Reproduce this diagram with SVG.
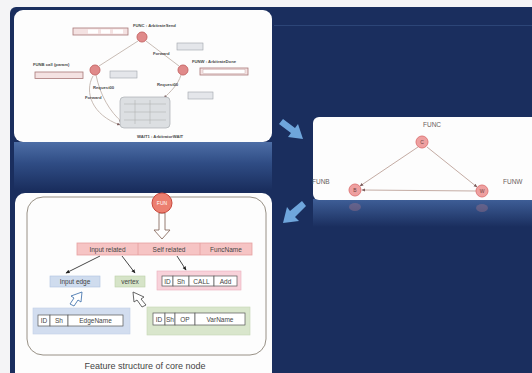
<svg xmlns="http://www.w3.org/2000/svg" width="532" height="373" viewBox="0 0 532 373">
  <defs>
    <style>
      .t { font-family: "Liberation Sans", Arial, sans-serif; }
      .tiny { font-family: "Liberation Sans", Arial, sans-serif; font-size: 4.2px; fill: #4a4a4a; font-weight: bold; }
      .lbl { font-family: "Liberation Sans", Arial, sans-serif; font-size: 6.5px; fill: #6a6060; }
      .cell { font-family: "Liberation Sans", Arial, sans-serif; font-size: 6.5px; fill: #444; text-anchor: middle; }
      .edge { stroke: #c4aca4; stroke-width: 1; fill: none; }
      .gedge { stroke: #c2b4ad; stroke-width: 0.9; fill: none; }
      .node { fill: #eea0a0; stroke: #e07a7a; stroke-width: 1; }
      .cgnode { fill: #e08a8a; stroke: #c86a6a; stroke-width: 1; }
      .pbox { fill: #f4e2e2; stroke: #a87878; stroke-width: 0.8; }
      .gbox { fill: #e4e6ea; stroke: #9ea3aa; stroke-width: 0.6; }
      .cellbox { fill: #fff; stroke: #555; stroke-width: 0.7; }
      .dark { stroke: #333; stroke-width: 0.9; fill: none; }
    </style>
    <linearGradient id="reflect" x1="0" y1="0" x2="0" y2="1">
      <stop offset="0" stop-color="#4d6ea6"/>
      <stop offset="0.45" stop-color="#2f4c84"/>
      <stop offset="1" stop-color="#1a2e5e"/>
    </linearGradient>
    <linearGradient id="reflect2" x1="0" y1="0" x2="0" y2="1">
      <stop offset="0" stop-color="#3f5f98"/>
      <stop offset="1" stop-color="#1a2e5e"/>
    </linearGradient>
    <marker id="ah" viewBox="0 0 10 10" refX="8" refY="5" markerWidth="5" markerHeight="5" orient="auto">
      <path d="M0,1 L9,5 L0,9 Z" fill="#222"/>
    </marker>
    <marker id="ahg" viewBox="0 0 10 10" refX="8" refY="5" markerWidth="4" markerHeight="4" orient="auto">
      <path d="M0,1 L9,5 L0,9 Z" fill="#7a5a5a"/>
    </marker>
  </defs>

  <!-- page margin and slide background -->
  <rect x="0" y="0" width="532" height="373" fill="#f4f4f6"/>
  <rect x="10" y="7" width="530" height="380" rx="6" fill="#1a2e5e"/>
  <line x1="274" y1="25.5" x2="532" y2="25.5" stroke="#2c4577" stroke-width="1.2"/>

  <!-- reflections under the panels -->
  <rect x="14" y="142" width="258" height="48" fill="url(#reflect)"/>
  <rect x="313" y="199" width="219" height="28" fill="url(#reflect2)"/>
  <ellipse cx="355" cy="207" rx="6" ry="4" fill="#b87a8a" opacity="0.35"/>
  <ellipse cx="482" cy="208" rx="6" ry="4" fill="#b87a8a" opacity="0.35"/>

  <!-- top-left panel: call graph with parameters -->
  <g id="panel-callgraph">
    <rect x="14" y="10" width="258" height="132" rx="9" fill="#fdfdfd"/>
    <g id="cg-connectors">
      <line class="gedge" x1="138" y1="41" x2="99" y2="66"/>
      <line class="gedge" x1="146" y1="41" x2="179" y2="66"/>
      <path class="gedge" d="M96,75 C100,95 110,112 122,122" marker-end="url(#ahg)"/>
      <path class="gedge" d="M93,76 C84,92 92,115 120,125" marker-end="url(#ahg)"/>
      <path class="gedge" d="M181,75 C178,85 170,92 164,98" marker-end="url(#ahg)"/>
    </g>
    <g id="cg-func">
      <circle class="cgnode" cx="142" cy="37" r="5"/>
      <text class="tiny" x="133" y="27">FUNC : ArbitrateSend</text>
      <rect class="pbox" x="73" y="28" width="55" height="7"/>
      <rect x="88" y="29.5" width="10" height="4" fill="#fff"/>
      <rect x="101" y="29.5" width="9" height="4" fill="#fff"/>
      <rect x="113" y="29.5" width="10" height="4" fill="#fff"/>
      <rect class="gbox" x="177" y="43" width="26" height="7"/>
    </g>
    <g id="cg-funb">
      <circle class="cgnode" cx="95" cy="70" r="5"/>
      <text class="tiny" x="33" y="66">FUNB call (param)</text>
      <rect class="pbox" x="35" y="72" width="48" height="6.5"/>
      <rect class="gbox" x="110" y="71" width="27" height="7"/>
    </g>
    <g id="cg-funw">
      <circle class="cgnode" cx="183" cy="70" r="5"/>
      <text class="tiny" x="192" y="63">FUNW : ArbitrateDone</text>
      <rect class="pbox" x="200" y="68" width="48" height="7"/>
      <rect x="203" y="69.5" width="42" height="4" fill="#fff" stroke="#c0a0a0" stroke-width="0.4"/>
      <rect class="gbox" x="188" y="92" width="25" height="7" fill="#e4e8f4"/>
    </g>
    <text class="tiny" x="153" y="55">Forward</text>
    <text class="tiny" x="93" y="89">Request00</text>
    <text class="tiny" x="85" y="99">Forward</text>
    <text class="tiny" x="157" y="86">Request00</text>
    <g id="cg-wait">
      <rect x="120" y="97" width="50" height="31" rx="4" fill="#dcdfe2" stroke="#a9adb2" stroke-width="0.7"/>
      <line x1="124" y1="104" x2="166" y2="104" stroke="#aaa" stroke-width="0.5"/>
      <line x1="124" y1="112" x2="166" y2="112" stroke="#aaa" stroke-width="0.5"/>
      <line x1="124" y1="120" x2="166" y2="120" stroke="#aaa" stroke-width="0.5"/>
      <line x1="135" y1="100" x2="135" y2="124" stroke="#aaa" stroke-width="0.5"/>
      <line x1="150" y1="100" x2="150" y2="124" stroke="#aaa" stroke-width="0.5"/>
      <text class="tiny" x="137" y="138">WAIT1 : ArbitratorWAIT</text>
    </g>
  </g>

  <!-- right panel: simplified call graph -->
  <g id="panel-simple">
    <rect x="313" y="117" width="230" height="83" rx="6" fill="#fdfdfd"/>
    <g id="simple-connectors">
      <line class="edge" x1="418" y1="147" x2="360" y2="186" marker-end="url(#ahg)"/>
      <line class="edge" x1="427" y1="147" x2="477" y2="187" marker-end="url(#ahg)"/>
      <line class="edge" x1="476" y1="191" x2="362" y2="190" marker-end="url(#ahg)"/>
    </g>
    <g id="node-C">
      <circle class="node" cx="422" cy="142" r="6"/>
      <text class="t" x="422" y="144" font-size="5" text-anchor="middle" fill="#704040">C</text>
      <text class="lbl" x="432" y="127" text-anchor="middle">FUNC</text>
    </g>
    <g id="node-B">
      <circle class="node" cx="355" cy="190" r="6"/>
      <text class="t" x="355" y="192" font-size="5" text-anchor="middle" fill="#704040">B</text>
      <text class="lbl" x="312" y="184">FUNB</text>
    </g>
    <g id="node-W">
      <circle class="node" cx="482" cy="191" r="6"/>
      <text class="t" x="482" y="193" font-size="5" text-anchor="middle" fill="#704040">W</text>
      <text class="lbl" x="503" y="184">FUNW</text>
    </g>
  </g>

  <!-- blue flow arrows between panels -->
  <g id="flow-arrows" fill="#6fa6dc">
    <path d="M279,124 L283,119 L295,128 L298,124 L303,139 L288,137 L291,133 Z"/>
    <path d="M306,206 L302,201 L290,211 L287,207 L283,223 L299,221 L295,217 Z"/>
  </g>

  <!-- bottom-left panel: feature structure of core node -->
  <g id="panel-feature">
    <rect x="15" y="193" width="257" height="190" rx="10" fill="#fdfdfd"/>
    <rect x="27" y="197" width="239" height="158" rx="16" fill="none" stroke="#8c8478" stroke-width="0.9"/>

    <g id="feat-connectors">
      <path d="M159,213 L165,213 L165,230 L170,230 L162,239 L154,230 L159,230 Z" fill="#fff" stroke="#8a6e62" stroke-width="0.9"/>
      <line class="dark" x1="100" y1="256" x2="66" y2="273" marker-end="url(#ah)"/>
      <line class="dark" x1="122" y1="256" x2="135" y2="273" marker-end="url(#ah)"/>
      <line class="dark" x1="177" y1="256" x2="186" y2="270" marker-end="url(#ah)"/>
      <path d="M70,304 L74,298 L71,296 L82,292 L81,302 L78,300 L74,306 Z" fill="#fff" stroke="#4a78b0" stroke-width="0.9"/>
      <path d="M146,305 L141,299 L144,297 L133,292 L134,302 L137,300 L142,307 Z" fill="#fff" stroke="#555" stroke-width="0.9"/>
    </g>

    <g id="feat-fun">
      <circle cx="162" cy="203" r="10" fill="#ec7f70" stroke="#c8483c" stroke-width="1"/>
      <text class="t" x="162" y="205" font-size="5" text-anchor="middle" fill="#fff">FUN</text>
    </g>

    <g id="feat-categories">
      <rect x="77" y="243" width="175" height="12" fill="#f6c4c4" stroke="#e6a0a0" stroke-width="0.8"/>
      <line x1="138" y1="243" x2="138" y2="255" stroke="#e6a0a0" stroke-width="0.8"/>
      <line x1="200" y1="243" x2="200" y2="255" stroke="#e6a0a0" stroke-width="0.8"/>
      <text class="cell" x="107.5" y="251.5">Input related</text>
      <text class="cell" x="169" y="251.5">Self related</text>
      <text class="cell" x="226" y="251.5">FuncName</text>
    </g>

    <g id="feat-input-edge">
      <rect x="50" y="276" width="50" height="11" fill="#cfdcee" stroke="#b0c4e0" stroke-width="0.6"/>
      <text class="cell" x="75" y="284">Input edge</text>
    </g>
    <g id="feat-vertex">
      <rect x="115" y="276" width="30" height="11" fill="#d6e4c8" stroke="#bcd0a8" stroke-width="0.6"/>
      <text class="cell" x="130" y="284">vertex</text>
    </g>

    <g id="feat-self">
      <rect x="157" y="271" width="84" height="19" fill="#f8d2da" stroke="#eab0bc" stroke-width="0.6"/>
      <rect class="cellbox" x="162" y="276" width="11" height="10"/>
      <rect class="cellbox" x="173" y="276" width="16" height="10"/>
      <rect class="cellbox" x="189" y="276" width="25" height="10"/>
      <rect class="cellbox" x="214" y="276" width="23" height="10"/>
      <text class="cell" x="167.5" y="283.5">ID</text>
      <text class="cell" x="181" y="283.5">Sh</text>
      <text class="cell" x="201.5" y="283.5">CALL</text>
      <text class="cell" x="225.5" y="283.5">Add</text>
    </g>

    <g id="feat-edge-detail">
      <rect x="33" y="308" width="97" height="26" fill="#d2ddef" stroke="#c2cfe6" stroke-width="0.6"/>
      <rect class="cellbox" x="38" y="315" width="12" height="11"/>
      <rect class="cellbox" x="50" y="315" width="18" height="11"/>
      <rect class="cellbox" x="68" y="315" width="55" height="11"/>
      <text class="cell" x="44" y="323">ID</text>
      <text class="cell" x="59" y="323">Sh</text>
      <text class="cell" x="95.5" y="323">EdgeName</text>
    </g>

    <g id="feat-vertex-detail">
      <rect x="147" y="307" width="103" height="28" fill="#d9e6cc" stroke="#c6d8b4" stroke-width="0.6"/>
      <rect class="cellbox" x="153" y="313" width="12" height="12"/>
      <rect class="cellbox" x="165" y="313" width="10" height="12"/>
      <rect class="cellbox" x="175" y="313" width="20" height="12"/>
      <rect class="cellbox" x="195" y="313" width="50" height="12"/>
      <text class="cell" x="159" y="321.5">ID</text>
      <text class="cell" x="170" y="321.5">Sh</text>
      <text class="cell" x="185" y="321.5">OP</text>
      <text class="cell" x="220" y="321.5">VarName</text>
    </g>

    <text class="t" x="145" y="369" font-size="9" text-anchor="middle" fill="#444">Feature structure of core node</text>
  </g>
</svg>
